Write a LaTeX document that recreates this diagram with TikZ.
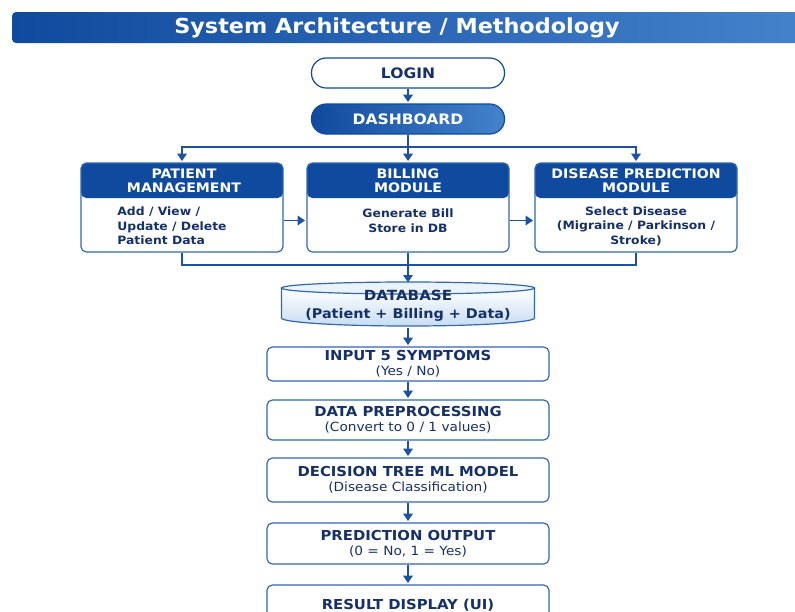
\documentclass[tikz,border=0pt]{standalone}
\usepackage{fontspec}
\setmainfont{DejaVu Sans}[FakeStretch=1.08]
\usetikzlibrary{arrows.meta}
\usepackage{xcolor}

\definecolor{hdrblue}{RGB}{16,74,158}
\definecolor{barright}{RGB}{68,130,204}
\definecolor{navy}{RGB}{22,48,105}
\definecolor{edgeblue}{RGB}{48,104,178}
\definecolor{lineblue}{RGB}{28,82,160}
\definecolor{dbfill}{RGB}{200,221,243}
\definecolor{dbtop}{RGB}{234,242,251}
\newcommand{\stepsub}{\fontsize{9.5}{11.5}\selectfont\mdseries}

\begin{document}
\begin{tikzpicture}[x=0.75pt,y=0.75pt,yscale=-1,xscale=1,
  arr/.style={draw=lineblue, line width=1.4pt, -{Triangle[width=7pt,length=5.5pt]}, shorten >=1pt},
  wire/.style={draw=lineblue, line width=1.4pt},
  pill/.style={draw=hdrblue, line width=0.9pt, rounded corners=11pt, minimum width=144.75pt, minimum height=22.5pt, inner sep=0pt, font=\bfseries\fontsize{10.8}{12}\selectfont},
  modbox/.style={draw=edgeblue, line width=0.9pt, fill=white, rounded corners=4pt, minimum width=151.5pt, minimum height=66.75pt, inner sep=0pt,
    path picture={\fill[hdrblue] (path picture bounding box.north west) rectangle ([yshift=-26.25pt]path picture bounding box.north east);}},
  modhead/.style={text=white, align=center, inner sep=0pt, font=\bfseries\fontsize{9.8}{10.5}\selectfont},
  modbody/.style={text=navy, align=center, inner sep=0pt, font=\bfseries\fontsize{8.6}{10.8}\selectfont},
  stepbox/.style={draw=edgeblue, line width=0.9pt, fill=white, rounded corners=4pt, minimum width=211.5pt, align=center, inner sep=0pt, text=navy, font=\bfseries\fontsize{10.3}{11.5}\selectfont}
]
\useasboundingbox (0,0) rectangle (795,611);

% Title bar
\node (titlebar) at (406,27.5) [left color=hdrblue, right color=barright, rounded corners=3pt, minimum width=591pt, minimum height=23.25pt] {};
\node (title) at (397,27.5) [text=white, font=\bfseries\fontsize{15.5}{17}\selectfont] {System Architecture / Methodology};

% Login and dashboard
\node (login) at (408,73) [pill, fill=white, text=navy] {LOGIN};
\node (dash) at (408,119) [pill, left color=hdrblue, right color=barright, text=white] {DASHBOARD};

% Module boxes
\node (pm) at (182,207.5) [modbox] {};
\node (bill) at (408,207.5) [modbox] {};
\node (dp) at (636,207.5) [modbox] {};
% Text Node
\node (pmhead) at (184,180.5) [modhead] {PATIENT\\MANAGEMENT};
\node (billhead) at (408,180.5) [modhead] {BILLING\\MODULE};
\node (dphead) at (636,180.5) [modhead] {DISEASE PREDICTION\\MODULE};
% Text Node
\node (pmbody) at (172,226) [modbody, align=left] {Add / View /\\Update / Delete\\Patient Data};
\node (billbody) at (408,220.5) [modbody, font=\bfseries\fontsize{8.6}{11.4}\selectfont] {Generate Bill\\Store in DB};
\node (dpbody) at (636,226) [modbody] {Select Disease\\(Migraine / Parkinson /\\Stroke)};

% Database cylinder
\path [top color=white, bottom color=dbfill, draw=edgeblue, line width=0.9pt] (281.5,288) -- (281.5,318) arc [start angle=180, end angle=0, x radius=126.5, y radius=8] -- (534.5,288) -- cycle;
\draw [fill=dbtop, draw=edgeblue, line width=0.9pt] (408,288) ellipse [x radius=126.5, y radius=6];
\node (db) at (408,306) [minimum width=190.5pt, minimum height=33pt, inner sep=0pt, align=center, text=navy, font=\bfseries\fontsize{10}{13.5}\selectfont] {{\fontsize{10.5}{13.5}\selectfont DATABASE}\\(Patient + Billing + Data)};

% Processing steps
\node (inp) at (408,364) [stepbox, minimum height=25.5pt] {INPUT 5 SYMPTOMS\\{\stepsub (Yes / No)}};
\node (pre) at (408,420) [stepbox, minimum height=30pt] {DATA PREPROCESSING\\{\stepsub (Convert to 0 / 1 values)}};
\node (dt) at (408,480) [stepbox, minimum height=33pt] {DECISION TREE ML MODEL\\{\stepsub (Disease Classification)}};
\node (po) at (408,543.5) [stepbox, minimum height=30.75pt] {PREDICTION OUTPUT\\{\stepsub (0 = No, 1 = Yes)}};
\node (rd) at (408,605) [stepbox, minimum height=30pt] {RESULT DISPLAY (UI)};

% Connectors
\coordinate (busT) at (408,147);
\coordinate (busB) at (408,265);
\draw [arr] (login) -- (dash);
\draw [wire] (dash.south) -- (busT);
\draw [arr] (busT) -| (pm.north);
\draw [arr] (busT) -- (bill.north);
\draw [arr] (busT) -| (dp.north);
\draw [arr] (pm.east |- billbody) -- (bill.west |- billbody);
\draw [arr] (bill.east |- billbody) -- (dp.west |- billbody);
\draw [wire] (pm.south) |- (dp.south |- busB) -- (dp.south);
\draw [arr] (bill.south) -- (db.north);
\draw [arr] (db.south) -- (inp.north);
\draw [arr] (inp) -- (pre);
\draw [arr] (pre) -- (dt);
\draw [arr] (dt) -- (po);
\draw [arr] (po) -- (rd);

\end{tikzpicture}
\end{document}
